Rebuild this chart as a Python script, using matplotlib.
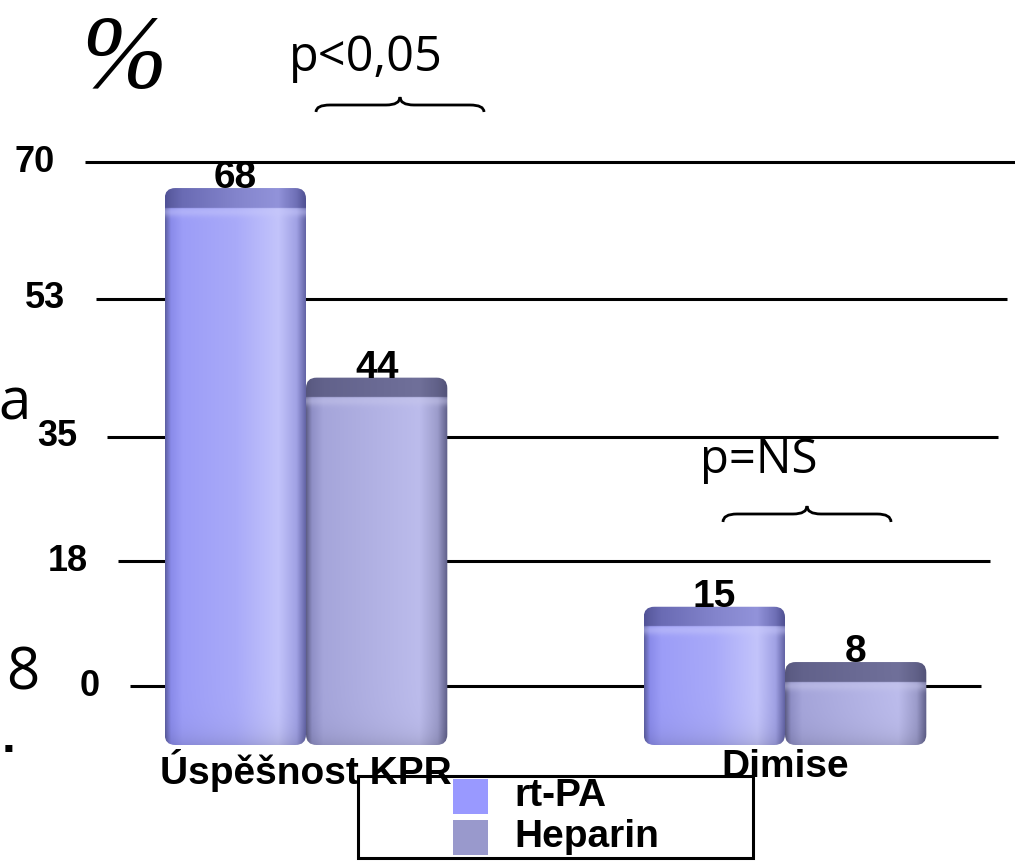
import numpy as np
import matplotlib
matplotlib.use("Agg")
import matplotlib.pyplot as plt
from matplotlib.patches import FancyBboxPatch, Rectangle, PathPatch
from matplotlib.path import Path
from matplotlib.colors import to_rgb

categories = ["Úspěšnost KPR", "Dimise"]
series = ["rt-PA", "Heparin"]
rtpa = [68, 15]
heparin = [44, 8]
grid_ticks = [0, 18, 35, 53, 70]
p_labels = ["p<0,05", "p=NS"]

W, H = 1015, 861
fig = plt.figure(figsize=(W / 100, H / 100), dpi=100)


def fx(x):
    return x / W


def fy(y):
    return 1 - y / H


# ---- back wall: gridlines, value axis slightly foreshortened ----
A, B = 6.743, 0.01061


def fwd(v):
    v = np.asarray(v, float)
    return A * v + B * v * v


def inv(p):
    p = np.asarray(p, float)
    return (-A + np.sqrt(np.maximum(A * A + 4 * B * p, 0))) / (2 * B)


back = fig.add_axes([0, fy(686), 1, (686 - 162) / H])
back.set_yscale('function', functions=(fwd, inv))
back.set_ylim(0, 70)
back.set_xlim(0, W)
back.axis('off')
for t in grid_ticks:
    k = t / 70
    x0 = 130 - 45 * k
    x1 = 981 + 34 * k
    back.plot([x0, x1], [t, t], color='black', lw=2.2, clip_on=False,
              solid_capstyle='butt')
    back.annotate(str(t), (x0, t), xytext=(-22, 0), textcoords='offset points',
                  ha='right', va='center', fontsize=26, fontweight='bold',
                  family='Liberation Sans')

# ---- front plane: the bars ----
PX_U = 7.9      # pixels per percent
PX_X = 479      # pixels per category step
X0 = 306        # pixel position of first category
front = fig.add_axes([0, fy(745), 1, 85 * PX_U / H])
front.set_xlim(-X0 / PX_X, (W - X0) / PX_X)
front.set_ylim(0, 85)
front.axis('off')

width = 0.295
cap = 2.5

styles = {
    "rt-PA": dict(
        front=(["#5e60a4", "#8a8bea", "#9c9df7", "#a9aaf9", "#c3c4fb", "#a0a1e4", "#5d5e9f"]),
        top=(["#505196", "#5c5da2", "#6a6bb4", "#8384cc", "#9293da", "#6e6fb6", "#4c4d8e"]),
        light="#c8c9fb", legend="#9999ff"),
    "Heparin": dict(
        front=(["#5f5f88", "#8f8fc6", "#a5a5da", "#b2b2e4", "#bcbcec", "#9c9ccb", "#5e5e88"]),
        top=(["#55557c", "#5c5c84", "#62628b", "#6a6a94", "#70709a", "#616188", "#525278"]),
        light="#c8c8ec", legend="#9999cc"),
}
stops = [0, 0.04, 0.12, 0.5, 0.8, 0.93, 1.0]


def profile(colors, n):
    s = np.linspace(0, 1, n)
    rgb = np.array([to_rgb(c) for c in colors])
    return np.stack([np.interp(s, stops, rgb[:, i]) for i in range(3)], axis=1)


def draw_bar(ax, x, v, st):
    total = v + cap
    nx = 150
    ny = int(total * PX_U * 2) + 1
    fr = profile(st["front"], nx)
    tp = profile(st["top"], nx)
    yy = np.linspace(0, total, ny)
    img = np.empty((ny, nx, 3))
    img[yy <= v] = fr
    img[yy > v] = tp
    # darker towards the floor
    shade = np.clip(1 - 0.12 * np.exp(-yy / 1.5), 0, 1)
    img *= shade[:, None, None]
    # soft sheen just under the top edge
    w = np.exp(-((yy - (v - 0.5)) / 0.6) ** 2) * (yy <= v)
    img = img * (1 - 0.45 * w[:, None, None]) + \
        0.45 * w[:, None, None] * np.array(to_rgb(st["light"]))
    box = FancyBboxPatch((x, 0), width, total,
                         boxstyle="round,pad=0,rounding_size=0.022",
                         mutation_aspect=PX_X / PX_U, fc='none', ec='none')
    ax.add_patch(box)
    im = ax.imshow(img, extent=(x, x + width, 0, total), origin='lower',
                   aspect='auto', interpolation='bilinear')
    im.set_clip_path(box)
    ax.text(x + width / 2, total, str(v), ha='center', va='baseline',
            fontsize=28, fontweight='bold', family='Liberation Sans')


for i in range(len(categories)):
    draw_bar(front, i - width, rtpa[i], styles["rt-PA"])
    draw_bar(front, i, heparin[i], styles["Heparin"])
    front.annotate(categories[i], (i, 0), xytext=(0, -3),
                   textcoords='offset points', ha='center', va='top',
                   fontsize=28, fontweight='bold', family='Liberation Sans')
front.set_xlim(-X0 / PX_X, (W - X0) / PX_X)
front.set_ylim(0, 85)


# ---- significance braces ----
def brace(x0, x1, y_end, y_flat, y_tip):
    xc = (x0 + x1) / 2
    r = 14
    pts = [(x0, y_end), (x0, y_flat), (x0 + r, y_flat),
           (xc - r, y_flat), (xc, y_flat), (xc, y_tip),
           (xc, y_flat), (xc + r, y_flat),
           (x1 - r, y_flat), (x1, y_flat), (x1, y_end)]
    codes = [Path.MOVETO, Path.CURVE3, Path.CURVE3,
             Path.LINETO, Path.CURVE3, Path.CURVE3,
             Path.CURVE3, Path.CURVE3,
             Path.LINETO, Path.CURVE3, Path.CURVE3]
    path = Path([(fx(a), fy(b)) for a, b in pts], codes)
    fig.add_artist(PathPatch(path, fc='none', ec='black', lw=2,
                             transform=fig.transFigure))


brace(316, 484, 112, 105, 97)
brace(723, 891, 522, 514, 506)
fig.text(fx(366), fy(71), p_labels[0], ha='center', va='baseline',
         fontsize=35, family='Open Sans')
fig.text(fx(759), fy(473), p_labels[1], ha='center', va='baseline',
         fontsize=34, family='Open Sans')

# ---- axis title fragments ----
fig.text(fx(124), fy(88), "%", ha='center', va='baseline', fontsize=74,
         family='Liberation Serif', style='italic')
fig.text(fx(15), fy(420), "a", ha='center', va='baseline', fontsize=42,
         family='Open Sans')
fig.text(fx(23), fy(690), "8", ha='center', va='baseline', fontsize=42,
         family='Open Sans')
fig.text(fx(2), fy(752), ".", ha='left', va='baseline', fontsize=36,
         fontweight='bold', family='Liberation Sans')

# ---- legend (behind the category labels) ----
fig.add_artist(Rectangle((fx(358), fy(858)), fx(753 - 358), (858 - 776) / H,
                         fc='none', ec='black', lw=2.2,
                         transform=fig.transFigure, zorder=-1))
for j, name in enumerate(series):
    ytop = 779 + j * 41
    fig.add_artist(Rectangle((fx(453), fy(ytop + 35)), fx(35), 35 / H,
                             fc=styles[name]["legend"], ec='none',
                             transform=fig.transFigure, zorder=-1))
    fig.text(fx(514), fy(ytop + 17), name, ha='left', va='center',
             fontsize=28, fontweight='bold', family='Liberation Sans',
             zorder=-1)

fig.savefig("out.png", dpi=100)
